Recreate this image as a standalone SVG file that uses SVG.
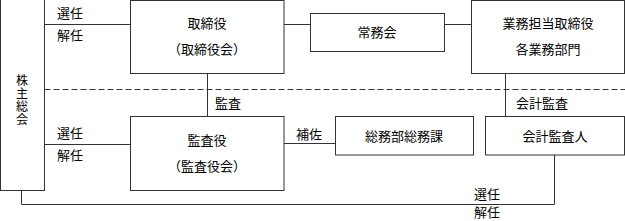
<svg xmlns="http://www.w3.org/2000/svg" width="625" height="221" viewBox="0 0 625 221">
<style>
.box{fill:#fff;stroke:#333;stroke-width:1}
.ln{fill:none;stroke:#333;stroke-width:1}
.dash{fill:none;stroke:#333;stroke-width:1;stroke-dasharray:6 3}
text{font-family:"Noto Sans CJK JP","Noto Sans CJK SC",sans-serif;font-size:13px;fill:#000}
.c{text-anchor:middle}
.v{writing-mode:vertical-rl;font-size:12px;letter-spacing:1px}
</style>
<rect width="625" height="221" fill="#fff"/>
<g id="connectors">
<line class="dash" x1="44.5" y1="89.5" x2="625" y2="89.5"/>
<line class="ln" x1="44.5" y1="24.5" x2="130.5" y2="24.5"/>
<line class="ln" x1="284" y1="24.5" x2="310.5" y2="24.5"/>
<line class="ln" x1="444.5" y1="24.5" x2="471.5" y2="24.5"/>
<line class="ln" x1="207.5" y1="73.5" x2="207.5" y2="116.5"/>
<line class="ln" x1="505.5" y1="73.5" x2="505.5" y2="116.5"/>
<line class="ln" x1="44.5" y1="144.5" x2="130.5" y2="144.5"/>
<line class="ln" x1="284" y1="143.5" x2="335.5" y2="143.5"/>
<polyline class="ln" points="21.5,190.5 21.5,204.5 554.5,204.5 554.5,155"/>
<text x="57" y="18">選任</text>
<text x="57" y="40">解任</text>
<text x="215" y="108">監査</text>
<text x="516" y="108">会計監査</text>
<text x="57" y="138">選任</text>
<text x="57" y="160">解任</text>
<text x="296" y="139">補佐</text>
<text x="474" y="199">選任</text>
<text x="474" y="217">解任</text>
</g>
<g id="shareholders">
<rect class="box" x="0.5" y="-1" width="44" height="191.5"/>
<text class="v" x="22" y="74">株主総会</text>
</g>
<g id="board">
<rect class="box" x="130.5" y="0.5" width="153.5" height="73"/>
<text class="c" x="207" y="28">取締役</text>
<text class="c" x="207" y="54">（取締役会）</text>
</g>
<g id="jomukai">
<rect class="box" x="310.5" y="13.5" width="134" height="38"/>
<text class="c" x="377" y="37">常務会</text>
</g>
<g id="exec">
<rect class="box" x="471.5" y="0.5" width="153" height="73"/>
<text class="c" x="548" y="28">業務担当取締役</text>
<text class="c" x="548" y="54">各業務部門</text>
</g>
<g id="auditors">
<rect class="box" x="130.5" y="116.5" width="153.5" height="74"/>
<text class="c" x="207" y="145">監査役</text>
<text class="c" x="207" y="171">（監査役会）</text>
</g>
<g id="soumu">
<rect class="box" x="335.5" y="116.5" width="138" height="38.5"/>
<text class="c" x="404" y="141">総務部総務課</text>
</g>
<g id="accounting">
<rect class="box" x="485.5" y="116.5" width="139" height="38.5"/>
<text class="c" x="555" y="141">会計監査人</text>
</g>
</svg>
